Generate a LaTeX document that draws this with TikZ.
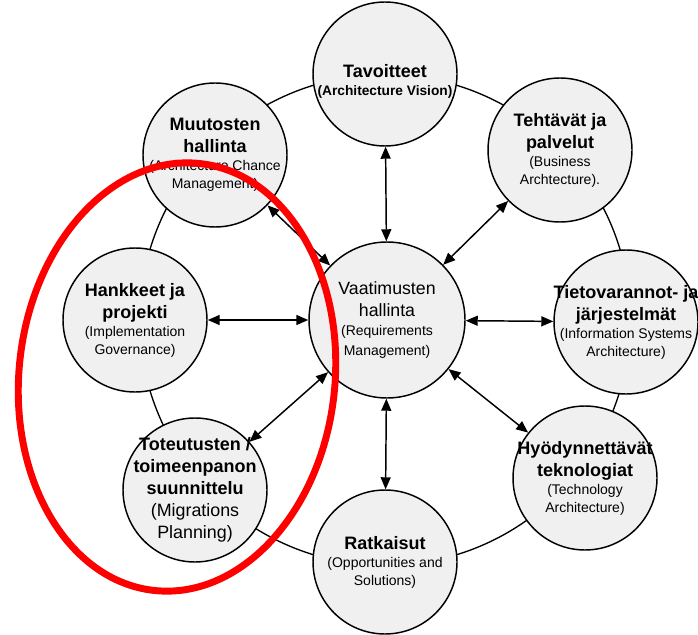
\documentclass[tikz,border=0pt]{standalone}
\usepackage{fontspec}
\setmainfont{Liberation Sans}
\usetikzlibrary{arrows.meta,calc}
\newcommand{\ttl}{\fontsize{13.5}{16.5}\selectfont\bfseries}
\newcommand{\sub}{\fontsize{10.5}{12.7}\selectfont}
\tikzstyle{phase} = [circle, draw, line width=1.1pt, fill=black!6, minimum size=108pt, inner sep=0pt]
\tikzstyle{hub} = [phase, minimum size=117pt]
\tikzstyle{caption} = [text centered, align=center, inner sep=0pt, font=\fontsize{10.5}{16.5}\selectfont]
\tikzstyle{ring} = [line width=1pt]
\tikzstyle{connector} = [line width=1.1pt, {Triangle[length=9pt,width=7.5pt]}-{Triangle[length=9pt,width=7.5pt]}]
\tikzstyle{highlight} = [draw=red, line width=5.2pt]

\begin{document}
\begin{tikzpicture}[x=0.75pt, y=-0.75pt]
    \useasboundingbox (0,0) rectangle (698,634);
    \coordinate (centre) at (385,320);
    \draw [ring] (centre) circle [radius=184pt];
    % circles
    \node (vaa) [hub] at (387,320) {};
    \node (tav) [phase] at (385,74) {};
    \node (teh) [phase] at (560,150) {};
    \node (tie) [phase] at (626,322) {};
    \node (hyo) [phase] at (585,478) {};
    \node (rat) [phase] at (385,562) {};
    \node (tot) [phase] at (195,490) {};
    \node (han) [phase] at (135,320) {};
    \node (muu) [phase] at (215,155) {};
    % texts
    \node (vaa-txt) [caption] at (vaa) {{\fontsize{13.3}{16.5}\selectfont Vaatimusten}\\{\fontsize{13.3}{16.5}\selectfont hallinta}\\[-2pt]{\sub (Requirements}\\[-2pt]{\sub Management)}};
    \node (tav-txt) [caption] at ($(tav)+(0,7)$) {{\ttl Tavoitteet}\\[-3pt]{\fontsize{10.3}{12}\selectfont\bfseries (Architecture Vision)}};
    \node (teh-txt) [caption] at (teh) {{\ttl Tehtävät ja}\\{\ttl palvelut}\\[-3pt]{\sub (Business}\\[-3pt]{\sub Archtecture).}};
    \node (tie-txt) [caption] at (tie) {{\ttl Tietovarannot- ja}\\{\ttl järjestelmät}\\[-3pt]{\sub (Information Systems}\\[-3pt]{\sub Architecture)}};
    \node (hyo-txt) [caption] at (hyo) {{\ttl Hyödynnettävät}\\{\ttl teknologiat}\\[-3pt]{\sub (Technology}\\[-3pt]{\sub Architecture)}};
    \node (rat-txt) [caption] at (rat) {{\ttl Ratkaisut}\\[-3pt]{\sub (Opportunities and}\\[-3pt]{\sub Solutions)}};
    \node (tot-txt) [caption] at (tot) {{\ttl Toteutusten /}\\{\ttl toimeenpanon}\\{\ttl suunnittelu}\\{\fontsize{13.4}{16.5}\selectfont (Migrations}\\{\fontsize{13.4}{16.5}\selectfont Planning)}};
    \node (han-txt) [caption] at (han) {{\ttl Hankkeet ja}\\{\ttl projekti}\\[-3pt]{\sub (Implementation}\\[-3pt]{\sub Governance)}};
    \node (muu-txt) [caption] at (muu) {{\ttl Muutosten}\\{\ttl hallinta}\\[-3pt]{\sub (Architecture Chance}\\[-3pt]{\sub Management)}};
    % links to the hub
    \draw [connector] (vaa) -- (tav);
    \draw [connector] (vaa) -- (teh);
    \draw [connector] (vaa) -- (tie);
    \draw [connector] (vaa) -- (hyo);
    \draw [connector] (vaa) -- (rat);
    \draw [connector] (vaa) -- (tot);
    \draw [connector] (vaa) -- (han);
    \draw [connector] (vaa) -- (muu);
    % highlight
    \draw [highlight, rotate around={-6:(177,377)}] (177,377) ellipse [x radius=118.5pt, y radius=161pt];
\end{tikzpicture}
\end{document}
